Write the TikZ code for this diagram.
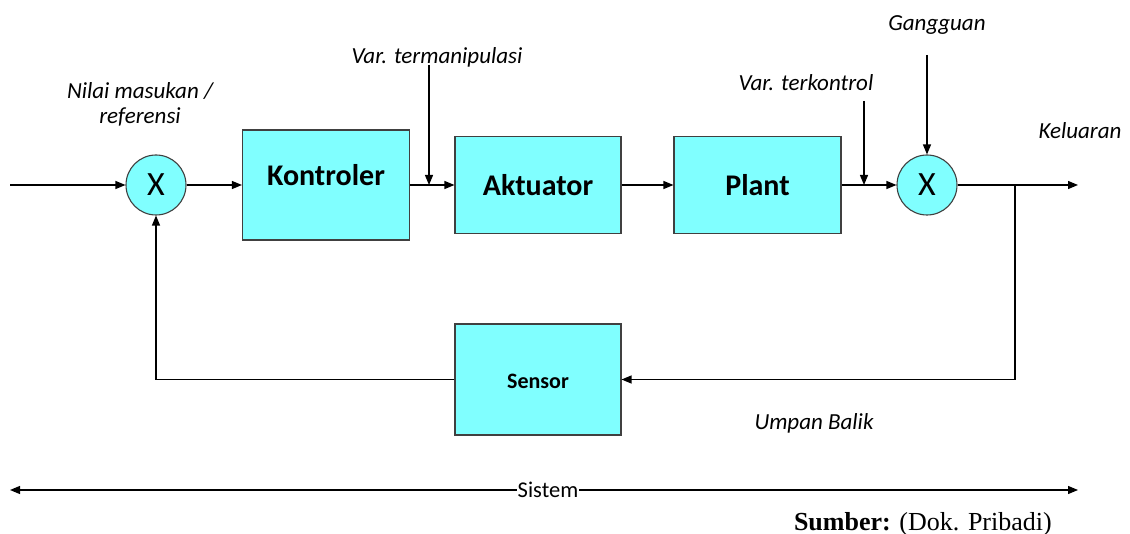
\documentclass[tikz,border=0pt]{standalone}
\usepackage{fontspec}
\setmainfont{Carlito}
\newfontfamily\seriffont{Liberation Serif}
\usetikzlibrary{arrows.meta}
\definecolor{boxc}{HTML}{80FFFF}
\begin{document}
\begin{tikzpicture}[x=1pt,y=-1pt,
  blk/.style={draw=black!75,line width=1.1pt,fill=boxc,inner sep=0pt},
  sumc/.style={circle,draw=black!75,line width=1.1pt,fill=boxc,minimum size=60pt,inner sep=0pt,font=\fontsize{34}{38}\selectfont},
  lab/.style={font=\itshape\fontsize{23}{25}\selectfont,inner sep=0pt,anchor=base},
  big/.style={font=\bfseries\fontsize{30}{34}\selectfont,inner sep=0pt,anchor=base},
  flow/.style={line width=1.2pt,-{Triangle[length=10pt,width=8pt]}}]
\useasboundingbox (0,0) rectangle (1130,534);
% blocks
\node[sumc] (c1) at (156,185) {X};
\node[sumc] (c2) at (927,185) {X};
\node[blk,minimum width=167pt,minimum height=110pt] (kon) at (326,185) {};
\node[big] (kont) at (326,186) {Kontroler};
\node[blk,minimum width=166pt,minimum height=97pt] (akt) at (538,185) {};
\node[big] (aktt) at (538,196) {Aktuator};
\node[blk,minimum width=167pt,minimum height=97pt] (pla) at (757.5,185) {};
\node[big] (plat) at (757.5,196) {Plant};
\node[blk,minimum width=166pt,minimum height=111pt] (sen) at (538,379.5) {};
\node[font=\bfseries\fontsize{22}{26}\selectfont,inner sep=0pt,anchor=base] (sent) at (538,389) {Sensor};
% labels
\node[lab,align=center] (nil) at (140,124) {Nilai masukan /\\referensi};
\node[lab] (vtl) at (437,64) {Var. termanipulasi};
\node[lab] (vkl) at (806,91) {Var. terkontrol};
\node[lab] (ggl) at (937,31) {Gangguan};
\node[lab] (kel) at (1080,139) {Keluaran};
\node[lab] (ubl) at (814,429) {Umpan Balik};
% coordinates
\coordinate (in) at (10,185);
\coordinate (vt) at (429,65);
\coordinate (vte) at (429,185);
\coordinate (vk) at (864,101);
\coordinate (vke) at (864,185);
\coordinate (gg) at (927,55);
\coordinate (br) at (1015,185);
\coordinate (out) at (1078,185);
% connectors
\draw[flow] (in) -- (c1.west);
\draw[flow] (c1.east) -- (kon.west);
\draw[flow] (kon.east) -- (akt.west);
\draw[flow] (vt) -- (vte);
\draw[flow] (akt.east) -- (pla.west);
\draw[flow] (pla.east) -- (c2.west);
\draw[flow] (vk) -- (vke);
\draw[flow] (gg) -- (c2.north);
\draw[flow] (c2.east) -- (out);
\draw[flow] (br) |- (sen.east);
\draw[flow] (sen.west) -| (c1.south);
% system
\node[fill=white,inner xsep=1pt,inner ysep=3pt,font=\fontsize{22.5}{26}\selectfont] (sys) at (548,490) {Sistem};
\coordinate (sa) at (10,490);
\coordinate (sb) at (1078,490);
\draw[flow] (sys.west) -- (sa);
\draw[flow] (sys.east) -- (sb);
\node[font=\seriffont\fontsize{26}{28}\selectfont,anchor=base east,inner sep=0pt] (src) at (1052,530) {\textbf{Sumber:} (Dok. Pribadi)};
\end{tikzpicture}
\end{document}
